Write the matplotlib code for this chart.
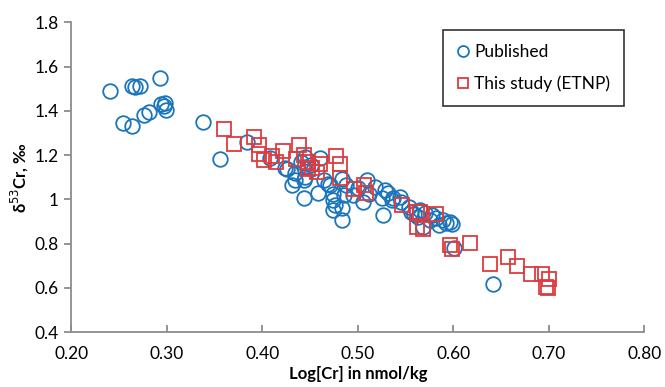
import numpy as np
import matplotlib
matplotlib.use("Agg")
import matplotlib.pyplot as plt

plt.rcParams['font.family'] = ['Lato', 'DejaVu Sans']

# Published data (blue circles)
pub_x = [0.240, 0.263, 0.267, 0.272, 0.293, 0.254, 0.263, 0.276, 0.281, 0.294,
         0.298, 0.299, 0.297, 0.338, 0.356, 0.384, 0.408, 0.426, 0.434, 0.431,
         0.434, 0.443, 0.440, 0.445, 0.443, 0.443, 0.445, 0.460, 0.464, 0.469,
         0.474, 0.474, 0.476, 0.474, 0.483, 0.483, 0.485, 0.483, 0.488, 0.500,
         0.509, 0.512, 0.518, 0.525, 0.528, 0.531, 0.526, 0.537, 0.544, 0.554,
         0.559, 0.545, 0.556, 0.563, 0.568, 0.575, 0.585, 0.589, 0.596, 0.598,
         0.601, 0.578, 0.641, 0.424, 0.458, 0.471, 0.495, 0.505, 0.536, 0.565,
         0.570, 0.582, 0.592, 0.451]
pub_y = [1.489, 1.512, 1.506, 1.513, 1.549, 1.346, 1.331, 1.381, 1.393, 1.433,
         1.436, 1.406, 1.421, 1.350, 1.181, 1.261, 1.188, 1.139, 1.117, 1.064,
         1.086, 1.004, 1.169, 1.192, 1.147, 1.086, 1.101, 1.185, 1.086, 1.071,
         1.026, 0.996, 0.973, 0.951, 0.905, 0.960, 1.019, 1.094, 1.064, 1.050,
         1.086, 1.026, 1.056, 1.004, 1.041, 1.028, 0.928, 1.004, 1.011, 0.966,
         0.936, 0.988, 0.943, 0.920, 0.875, 0.905, 0.883, 0.905, 0.898, 0.890,
         0.782, 0.928, 0.616, 1.141, 1.028, 1.064, 1.019, 0.988, 0.996, 0.951,
         0.937, 0.914, 0.892, 1.154]

# This study (ETNP) (red squares)
etnp_x = [0.360, 0.370, 0.391, 0.396, 0.396, 0.402, 0.414, 0.421, 0.438, 0.435,
          0.443, 0.448, 0.452, 0.457, 0.460, 0.477, 0.481, 0.481, 0.496, 0.506,
          0.508, 0.546, 0.562, 0.562, 0.565, 0.582, 0.568, 0.596, 0.598, 0.617,
          0.638, 0.657, 0.667, 0.681, 0.693, 0.700, 0.697, 0.699, 0.410, 0.448]
etnp_y = [1.320, 1.252, 1.282, 1.245, 1.204, 1.177, 1.169, 1.218, 1.245, 1.184,
          1.200, 1.139, 1.141, 1.123, 1.161, 1.195, 1.162, 1.095, 1.046, 1.064,
          1.029, 0.976, 0.944, 0.875, 0.944, 0.936, 0.868, 0.792, 0.777, 0.803,
          0.709, 0.741, 0.697, 0.661, 0.664, 0.642, 0.604, 0.598, 1.196, 1.169]

xticks = [0.2, 0.3, 0.4, 0.5, 0.6, 0.7, 0.8]
yticks = [0.4, 0.6, 0.8, 1.0, 1.2, 1.4, 1.6, 1.8]
ytick_labels = ["0.4", "0.6", "0.8", "1", "1.2", "1.4", "1.6", "1.8"]

blue = "#1b75bb"
red = "#dd3b3f"

fig = plt.figure(figsize=(6.65, 3.87), dpi=100)
ax = fig.add_axes([0.1075, 0.142, 0.8615, 0.800])

ax.plot(pub_x, pub_y, linestyle='none', marker='o', markersize=10.5,
        markerfacecolor='none', markeredgecolor=blue, markeredgewidth=1.3,
        label='Published')
ax.plot(etnp_x, etnp_y, linestyle='none', marker='s', markersize=10,
        markerfacecolor='none', markeredgecolor=red, markeredgewidth=1.3,
        label='This study (ETNP)')

ax.set_xlim(0.2, 0.8)
ax.set_ylim(0.4, 1.8)
ax.set_xticks(xticks)
ax.set_xticklabels(["%.2f" % t for t in xticks])
ax.set_yticks(yticks)
ax.set_yticklabels(ytick_labels)

for s in ['top', 'right']:
    ax.spines[s].set_visible(False)
for s in ['left', 'bottom']:
    ax.spines[s].set_color('#8c8c8c')
    ax.spines[s].set_linewidth(1.3)
ax.tick_params(axis='x', direction='in', length=5, width=1.3, color='#8c8c8c',
               labelsize=12.5, pad=10)
ax.tick_params(axis='y', direction='out', length=5, width=1.3, color='#8c8c8c',
               labelsize=12.5, pad=4)

ax.set_xlabel("Log[Cr] in nmol/kg", fontsize=12, fontweight='bold', labelpad=3)
ax.set_ylabel("δ$^{53}$Cr, ‰", fontsize=12, fontweight='bold', labelpad=3)

leg = ax.legend(loc='upper left', bbox_to_anchor=(443 / 665, 1 - 30 / 387),
                bbox_transform=fig.transFigure, fancybox=False, frameon=True,
                edgecolor='black', fontsize=12.5, handlelength=0.7,
                handletextpad=0.3, labelspacing=0.9, borderpad=0.8,
                borderaxespad=0, markerscale=0.75)
leg.get_frame().set_linewidth(1.2)

plt.savefig("out.png", dpi=100)
